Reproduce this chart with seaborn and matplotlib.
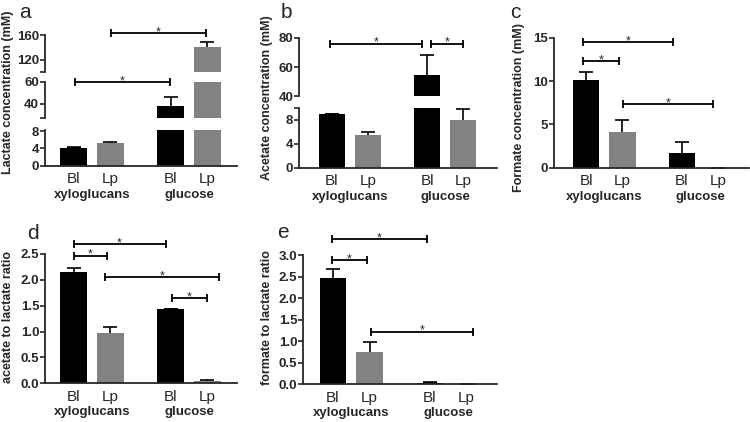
import numpy as np
import pandas as pd
import matplotlib
matplotlib.use("Agg")
import matplotlib.pyplot as plt
import seaborn as sns

# ---- data ----
strains = ["Bl", "Lp", "Bl", "Lp"]
groups = ["xyloglucans", "glucose"]

lactate = [4.2, 5.3, 38.5, 141.0]
lactate_err = [0.1, 0.2, 8.0, 7.0]
acetate = [9.0, 5.5, 54.7, 8.0]
acetate_err = [0.05, 0.5, 13.3, 1.9]
formate = [10.1, 4.15, 1.73, 0.0]
formate_err = [0.9, 1.35, 1.2, 0.0]
ac_lac_ratio = [2.16, 0.98, 1.44, 0.05]
ac_lac_err = [0.06, 0.10, 0.0, 0.02]
fo_lac_ratio = [2.46, 0.74, 0.04, 0.0]
fo_lac_err = [0.21, 0.23, 0.02, 0.0]

# significance brackets: (x start, x end, height)
sig_a = [(0.04, 2.63, 60), (1.02, 3.61, 163)]
sig_b = [(-0.06, 2.50, 76), (2.76, 3.65, 76)]
sig_c = [(-0.07, 2.39, 14.5), (-0.07, 0.91, 12.3), (1.01, 3.50, 7.3)]
sig_d = [(0.0, 2.51, 2.69), (0.0, 0.90, 2.47), (0.87, 3.96, 2.05), (2.68, 3.63, 1.64)]
sig_e = [(-0.02, 2.56, 3.37), (-0.02, 0.92, 2.88), (1.03, 3.83, 1.22)]

# ---- layout ----
W, H = 750, 422
bar_pos = [0, 1, 2.65, 3.65]
group_pos = [0.5, 3.15]
colors = {"Bl": "#000000", "Lp": "#828282"}

sns.set_style("ticks")
plt.rcParams["font.family"] = ["Liberation Sans", "DejaVu Sans"]
plt.rcParams["axes.linewidth"] = 1.3

fig = plt.figure(figsize=(W / 100, H / 100), dpi=100)


def px_axes(left, right, top, bottom):
    return fig.add_axes([left / W, 1 - bottom / H, (right - left) / W, (bottom - top) / H])


def draw_bars(ax, vals, errs, xlim, ylim):
    ax.errorbar(bar_pos, vals, yerr=errs, fmt="none", ecolor="black",
                elinewidth=1.2, capsize=5, capthick=1.2, zorder=0.5)
    sns.barplot(x=bar_pos, y=vals, hue=strains, palette=colors, native_scale=True,
                dodge=False, width=0.735, errorbar=None, legend=False,
                saturation=1, linewidth=0, ax=ax, zorder=1)
    ax.set_xlim(*xlim)
    ax.set_ylim(*ylim)
    ax.set_xlabel("")
    ax.set_ylabel("")
    sns.despine(ax=ax)
    ax.tick_params(axis="y", direction="out", length=3.6, width=1.2, pad=0.8,
                   labelsize=9.5)


def finish_bottom(ax):
    ax.set_xticks(bar_pos, strains)
    ax.tick_params(axis="x", length=0, pad=4.5, labelsize=11)
    for g, xc in zip(groups, group_pos):
        ax.annotate(g, xy=(xc, 0), xycoords=("data", "axes fraction"),
                    xytext=(0, -21), textcoords="offset points", ha="center",
                    va="center", fontsize=9.5, fontweight="bold")


def hide_bottom(ax):
    ax.spines["bottom"].set_visible(False)
    ax.set_xticks([])


def bracket(ax, x0, x1, y):
    ax.plot([x0, x1], [y, y], color="black", lw=1.3, marker="|", markersize=6,
            mew=1.3, clip_on=False, zorder=3)
    ax.annotate("*", xy=((x0 + x1) / 2, y), xytext=(0, -1.5),
                textcoords="offset points", ha="center", va="baseline",
                fontsize=9, annotation_clip=False)


def set_ticks(ax, ticks, labels):
    ax.set_yticks(ticks, labels)
    for lab in ax.get_yticklabels():
        lab.set_fontweight("bold")


# ---- panel a (broken axis, three segments) ----
xlim_a = (-0.777, 4.455)
a_low = px_axes(45, 237, 129.5, 165.7)
draw_bars(a_low, lactate, lactate_err, xlim_a, (0, 8.4))
set_ticks(a_low, [0, 4, 8], ["0", "4", "8"])
finish_bottom(a_low)

a_mid = px_axes(45, 237, 82, 118.5)
draw_bars(a_mid, lactate, lactate_err, xlim_a, (26.8, 60))
set_ticks(a_mid, [26.8, 40, 60], ["", "40", "60"])
hide_bottom(a_mid)

a_top = px_axes(45, 237, 35, 71.5)
draw_bars(a_top, lactate, lactate_err, xlim_a, (101.6, 160))
set_ticks(a_top, [101.6, 120, 160], ["", "120", "160"])
hide_bottom(a_top)

bracket(a_mid, *sig_a[0])
bracket(a_top, *sig_a[1])

# ---- panel b (broken axis, two segments) ----
xlim_b = (-0.91, 4.6)
b_low = px_axes(299.3, 497, 108, 167.7)
draw_bars(b_low, acetate, acetate_err, xlim_b, (0, 10))
set_ticks(b_low, [0, 4, 8, 10], ["0", "4", "8", ""])
finish_bottom(b_low)

b_top = px_axes(299.3, 497, 37.7, 96.3)
draw_bars(b_top, acetate, acetate_err, xlim_b, (40, 80))
set_ticks(b_top, [40, 60, 80], ["40", "60", "80"])
hide_bottom(b_top)
for s in sig_b:
    bracket(b_top, *s)

# ---- panel c ----
c_ax = px_axes(554.3, 749, 37.7, 167.7)
draw_bars(c_ax, formate, formate_err, (-0.876, 4.5), (0, 15))
set_ticks(c_ax, [0, 5, 10, 15], ["0", "5", "10", "15"])
finish_bottom(c_ax)
for s in sig_c:
    bracket(c_ax, *s)

# ---- panel d ----
d_ax = px_axes(45.3, 237, 254, 383.3)
draw_bars(d_ax, ac_lac_ratio, ac_lac_err, (-0.77, 4.455), (0, 2.5))
d_ticks = np.arange(0, 2.51, 0.5)
set_ticks(d_ax, d_ticks, [f"{t:.1f}" for t in d_ticks])
finish_bottom(d_ax)
for s in sig_d:
    bracket(d_ax, *s)

# ---- panel e ----
e_ax = px_axes(303.3, 497, 255, 384.3)
draw_bars(e_ax, fo_lac_ratio, fo_lac_err, (-0.81, 4.48), (0, 3.0))
e_ticks = np.arange(0, 3.01, 0.5)
set_ticks(e_ax, e_ticks, [f"{t:.1f}" for t in e_ticks])
finish_bottom(e_ax)
for s in sig_e:
    bracket(e_ax, *s)

# ---- y labels and panel letters ----
ylabels = [
    ("Lactate concentration (mM)", 8, 92),
    ("Acetate concentration (mM)", 267, 98),
    ("Formate concentration (mM)", 519, 107),
    ("acetate to lactate ratio", 8, 317),
    ("formate to lactate ratio", 267, 318),
]
for txt, x, y in ylabels:
    fig.text(x / W, 1 - y / H, txt, rotation=90, ha="center", va="center",
             fontsize=9, fontweight="bold")

letters = [("a", 25, 12), ("b", 286, 12), ("c", 515, 12), ("d", 33, 234), ("e", 283, 233)]
for txt, x, y in letters:
    fig.text(x / W, 1 - y / H, txt, ha="center", va="center", fontsize=15)

fig.savefig("out.png", dpi=100)
